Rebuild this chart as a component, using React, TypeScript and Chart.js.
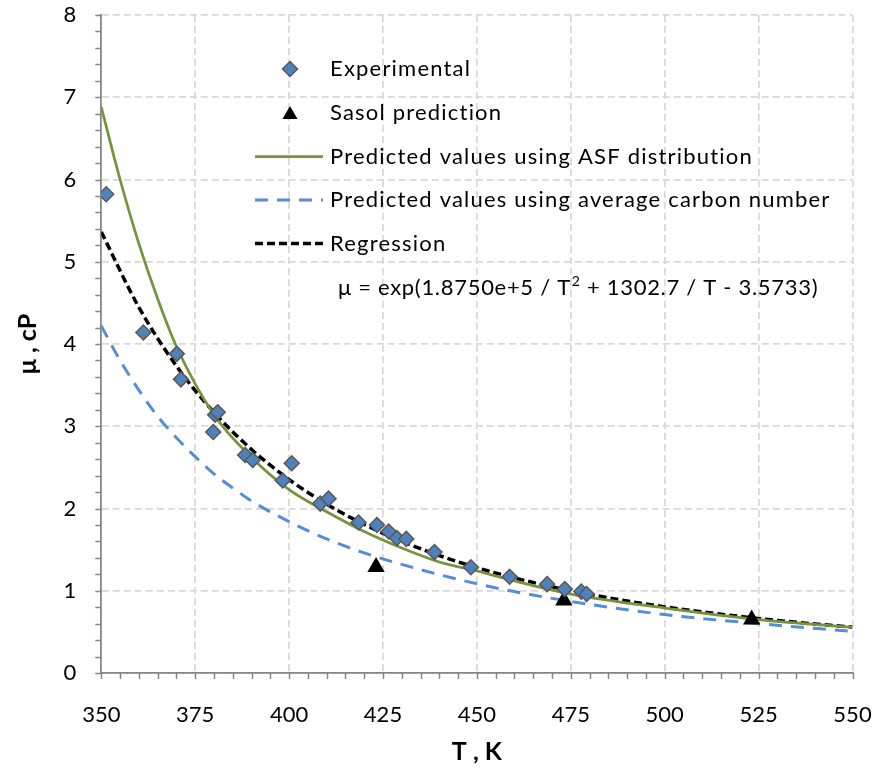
import React, { useEffect, useRef } from 'react';
import { Chart, registerables } from 'chart.js';

Chart.register(...registerables);

// ---------- data ----------
const expT = [351.3, 361.2, 370.1, 371.2, 380.3, 381.0, 379.8, 388.3, 390.3, 400.7, 398.3, 408.3, 410.5, 418.5, 423.4, 426.5, 428.7, 431.2, 438.7, 448.4, 458.7, 468.7, 473.4, 477.8, 479.2];
const expMu = [5.82, 4.14, 3.88, 3.57, 3.14, 3.17, 2.93, 2.65, 2.59, 2.55, 2.34, 2.06, 2.12, 1.83, 1.80, 1.72, 1.64, 1.63, 1.47, 1.285, 1.17, 1.08, 1.02, 0.99, 0.96];

const sasolT = [423.15, 473.15, 523.15];
const sasolMu = [1.29, 0.88, 0.65];

const asfT = [350, 355, 360, 365, 370, 380, 390, 400, 410, 420, 430, 440, 450, 460, 475, 500, 525, 550];
const asfMu = [6.88, 6.0, 5.22, 4.55, 3.97, 3.14, 2.62, 2.23, 1.96, 1.72, 1.52, 1.35, 1.24, 1.12, 0.96, 0.79, 0.65, 0.555];

const avgT = [350, 355, 360, 365, 370, 375, 380, 385, 390, 395, 400, 410, 420, 430, 440, 450, 460, 475, 500, 525, 550];
const avgMu = [4.22, 3.8, 3.44, 3.12, 2.86, 2.63, 2.42, 2.25, 2.09, 1.96, 1.84, 1.63, 1.46, 1.32, 1.195, 1.085, 0.99, 0.87, 0.71, 0.6, 0.505];

const regT = [350, 360, 370, 380, 390, 400, 410, 420, 430, 440, 450, 460, 470, 480, 490, 500, 510, 520, 530, 540, 550];
const regMu = [5.362, 4.446, 3.733, 3.169, 2.718, 2.352, 2.053, 1.806, 1.6, 1.428, 1.281, 1.156, 1.048, 0.956, 0.875, 0.804, 0.742, 0.688, 0.639, 0.596, 0.557];

const seriesLabels = [
  'Experimental',
  'Sasol prediction',
  'Predicted values using ASF distribution',
  'Predicted values using average carbon number',
  'Regression',
];
const equationParts = ['\u03bc = exp(1.8750e+5 / T', '2', ' + 1302.7 / T - 3.5733)'];

const xMin = 350, xMax = 550, xStep = 25, xMinorStep = 5;
const yMin = 0, yMax = 8, yStep = 1, yMinorStep = 0.2;
const xTitle = 'T , K';
const yTitle = '\u03bc , cP';

// ---------- style ----------
const FONT = 'Lato';
const AXIS_COLOR = '#868686';
const GRID_COLOR = '#d9d9d9';
const EXP_FILL = '#4f81bd';
const EXP_BORDER = '#595959';
const ASF_COLOR = '#77933c';
const AVG_COLOR = '#558ed5';
const REG_COLOR = '#000000';

const toPts = (xs: number[], ys: number[]) => xs.map((x, i) => ({ x, y: ys[i] }));

const minorTicksPlugin = {
  id: 'minorTicks',
  afterDraw(chart: any) {
    const { ctx } = chart;
    const xs = chart.scales.x;
    const ys = chart.scales.y;
    ctx.save();
    ctx.strokeStyle = AXIS_COLOR;
    ctx.lineWidth = 1.5;
    ctx.beginPath();
    const nx = Math.round((xMax - xMin) / xMinorStep);
    for (let i = 0; i <= nx; i++) {
      const px = Math.round(xs.getPixelForValue(xMin + i * xMinorStep)) + 0.5;
      ctx.moveTo(px, ys.bottom);
      ctx.lineTo(px, ys.bottom + 6);
    }
    const ny = Math.round((yMax - yMin) / yMinorStep);
    for (let i = 0; i <= ny; i++) {
      const py = Math.round(ys.getPixelForValue(yMin + i * yMinorStep)) + 0.5;
      ctx.moveTo(xs.left, py);
      ctx.lineTo(xs.left - 6, py);
    }
    ctx.stroke();
    ctx.restore();
  },
};

const legendPlugin = {
  id: 'customLegend',
  afterDraw(chart: any) {
    const { ctx } = chart;
    const ds = chart.data.datasets;
    const markerX = 290;
    const lineX0 = 255;
    const lineX1 = 323;
    const textX = 330;
    const rows = [69, 113, 156.5, 200, 243.5];
    ctx.save();
    ctx.font = `22px ${FONT}`;
    ctx.textBaseline = 'middle';
    ctx.fillStyle = '#000';
    rows.forEach((ry, i) => {
      const d = ds[i];
      if (i === 0) {
        const r = 7.5;
        ctx.beginPath();
        ctx.moveTo(markerX, ry - r);
        ctx.lineTo(markerX + r, ry);
        ctx.lineTo(markerX, ry + r);
        ctx.lineTo(markerX - r, ry);
        ctx.closePath();
        ctx.fillStyle = d.backgroundColor;
        ctx.fill();
        ctx.lineWidth = 1.5;
        ctx.strokeStyle = d.borderColor;
        ctx.stroke();
      } else if (i === 1) {
        ctx.beginPath();
        ctx.moveTo(markerX, ry - 7);
        ctx.lineTo(markerX + 7.5, ry + 6);
        ctx.lineTo(markerX - 7.5, ry + 6);
        ctx.closePath();
        ctx.fillStyle = d.backgroundColor;
        ctx.fill();
      } else {
        ctx.beginPath();
        ctx.setLineDash(d.borderDash || []);
        ctx.lineWidth = d.borderWidth;
        ctx.strokeStyle = d.borderColor;
        ctx.moveTo(lineX0, ry);
        ctx.lineTo(lineX1, ry);
        ctx.stroke();
        ctx.setLineDash([]);
      }
      ctx.fillStyle = '#000';
      (ctx as any).letterSpacing = '1.2px';
      ctx.fillText(seriesLabels[i], textX, ry);
    });
    // regression equation
    (ctx as any).letterSpacing = '0.7px';
    let ex = 338;
    const ey = 288;
    ctx.font = `22px ${FONT}`;
    ctx.fillText(equationParts[0], ex, ey);
    ex += ctx.measureText(equationParts[0]).width;
    ctx.font = `14px ${FONT}`;
    ctx.fillText(equationParts[1], ex + 1, ey - 7);
    ex += ctx.measureText(equationParts[1]).width + 1;
    ctx.font = `22px ${FONT}`;
    ctx.fillText(equationParts[2], ex, ey);
    (ctx as any).letterSpacing = '0px';
    ctx.restore();
  },
};

export default function App() {
  const ref = useRef<HTMLCanvasElement | null>(null);

  useEffect(() => {
    document.body.style.margin = '0';
    const canvas = ref.current;
    if (!canvas) return;
    const chart = new Chart(canvas, {
      type: 'scatter',
      data: {
        datasets: [
          {
            label: seriesLabels[0],
            data: toPts(expT, expMu),
            showLine: false,
            pointStyle: 'rectRot',
            pointRadius: 7.5,
            pointHoverRadius: 7.5,
            backgroundColor: EXP_FILL,
            borderColor: EXP_BORDER,
            pointBorderWidth: 1.5,
          },
          {
            label: seriesLabels[1],
            data: toPts(sasolT, sasolMu),
            showLine: false,
            pointStyle: 'triangle',
            pointRadius: 10,
            backgroundColor: '#000000',
            borderColor: '#000000',
            pointBorderWidth: 0,
          },
          {
            label: seriesLabels[2],
            data: toPts(asfT, asfMu),
            showLine: true,
            pointRadius: 0,
            borderColor: ASF_COLOR,
            backgroundColor: ASF_COLOR,
            borderWidth: 2.75,
            cubicInterpolationMode: 'monotone',
          },
          {
            label: seriesLabels[3],
            data: toPts(avgT, avgMu),
            showLine: true,
            pointRadius: 0,
            borderColor: AVG_COLOR,
            backgroundColor: AVG_COLOR,
            borderWidth: 3,
            borderDash: [13, 9],
            cubicInterpolationMode: 'monotone',
          },
          {
            label: seriesLabels[4],
            data: toPts(regT, regMu),
            showLine: true,
            pointRadius: 0,
            borderColor: REG_COLOR,
            backgroundColor: REG_COLOR,
            borderWidth: 3.5,
            borderDash: [8, 4],
            cubicInterpolationMode: 'monotone',
          },
        ],
      },
      options: {
        responsive: false,
        animation: false,
        devicePixelRatio: 1,
        events: [],
        layout: { padding: { left: 0, right: 25.5, top: 15, bottom: 0 } },
        plugins: {
          legend: { display: false },
          tooltip: { enabled: false },
        },
        scales: {
          x: {
            type: 'linear',
            min: xMin,
            max: xMax,
            afterFit: (s: any) => { s.height = 96; s.paddingLeft = 0; s.paddingRight = 0; },
            ticks: {
              stepSize: xStep,
              color: '#000',
              font: { family: FONT, size: 22 },
              padding: 29,
              maxRotation: 0,
            },
            grid: { color: GRID_COLOR, lineWidth: 1.75, drawTicks: false },
            border: { display: true, color: AXIS_COLOR, width: 1.75, dash: [7, 4] },
            title: {
              display: true,
              text: xTitle,
              color: '#000',
              font: { family: FONT, size: 25, weight: 'bold' },
              padding: { top: 0, bottom: 2 },
            },
          },
          y: {
            type: 'linear',
            min: yMin,
            max: yMax,
            afterFit: (s: any) => { s.width = 101.3; s.paddingTop = 0; s.paddingBottom = 0; },
            ticks: {
              stepSize: yStep,
              color: '#000',
              font: { family: FONT, size: 22 },
              padding: 25,
            },
            grid: { color: GRID_COLOR, lineWidth: 1.75, drawTicks: false },
            border: { display: true, color: AXIS_COLOR, width: 1.75, dash: [7, 4] },
            title: {
              display: true,
              text: yTitle,
              color: '#000',
              font: { family: FONT, size: 25, weight: 'bold' },
              padding: { top: 13, bottom: 0 },
            },
          },
        },
      },
      plugins: [minorTicksPlugin, legendPlugin],
    } as any);
    return () => chart.destroy();
  }, []);

  return (
    <div style={{ width: 878, height: 769, background: '#fff' }}>
      <canvas ref={ref} width={878} height={769} style={{ display: 'block' }} />
    </div>
  );
}
